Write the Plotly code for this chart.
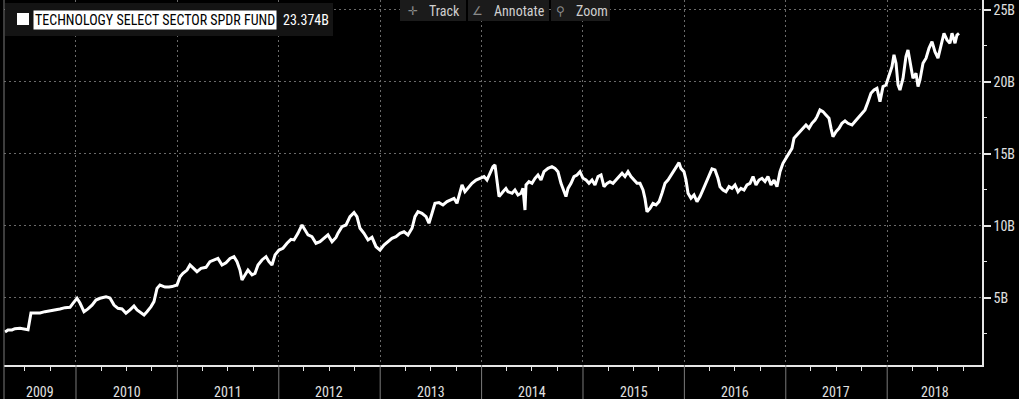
import plotly.graph_objects as go

# ---- data ----
t_years = [
    2009.300, 2009.329, 2009.369, 2009.398, 2009.448, 2009.497, 2009.527, 2009.556, 2009.596, 2009.645,
    2009.694, 2009.744, 2009.793, 2009.842, 2009.892, 2009.941, 2009.970, 2010.010, 2010.039, 2010.079,
    2010.118, 2010.158, 2010.197, 2010.237, 2010.296, 2010.335, 2010.375, 2010.414, 2010.454, 2010.493,
    2010.533, 2010.572, 2010.602, 2010.641, 2010.671, 2010.700, 2010.740, 2010.769, 2010.799, 2010.828,
    2010.878, 2010.917, 2010.947, 2010.996, 2011.026, 2011.055, 2011.095, 2011.124, 2011.154, 2011.193,
    2011.233, 2011.282, 2011.321, 2011.371, 2011.400, 2011.440, 2011.479, 2011.519, 2011.558, 2011.588,
    2011.617, 2011.637, 2011.667, 2011.696, 2011.736, 2011.765, 2011.795, 2011.834, 2011.874, 2011.903,
    2011.933, 2011.963, 2012.002, 2012.041, 2012.081, 2012.120, 2012.150, 2012.189, 2012.229, 2012.258,
    2012.288, 2012.327, 2012.367, 2012.406, 2012.446, 2012.485, 2012.525, 2012.564, 2012.584, 2012.623,
    2012.663, 2012.702, 2012.742, 2012.771, 2012.801, 2012.840, 2012.880, 2012.919, 2012.959, 2012.998,
    2013.037, 2013.077, 2013.116, 2013.156, 2013.195, 2013.235, 2013.274, 2013.314, 2013.343, 2013.373,
    2013.412, 2013.452, 2013.481, 2013.511, 2013.540, 2013.580, 2013.619, 2013.659, 2013.698, 2013.728,
    2013.757, 2013.787, 2013.807, 2013.836, 2013.866, 2013.905, 2013.945, 2013.984, 2014.024, 2014.053,
    2014.083, 2014.112, 2014.132, 2014.152, 2014.172, 2014.211, 2014.240, 2014.260, 2014.300, 2014.329,
    2014.359, 2014.389, 2014.408, 2014.428, 2014.438, 2014.467, 2014.497, 2014.527, 2014.556, 2014.586,
    2014.615, 2014.655, 2014.694, 2014.724, 2014.753, 2014.783, 2014.813, 2014.832, 2014.852, 2014.882,
    2014.911, 2014.941, 2014.970, 2015.000, 2015.030, 2015.059, 2015.089, 2015.118, 2015.148, 2015.178,
    2015.207, 2015.237, 2015.266, 2015.296, 2015.325, 2015.355, 2015.385, 2015.414, 2015.444, 2015.473,
    2015.503, 2015.533, 2015.562, 2015.592, 2015.611, 2015.631, 2015.661, 2015.690, 2015.720, 2015.750,
    2015.779, 2015.809, 2015.838, 2015.868, 2015.897, 2015.927, 2015.947, 2015.966, 2015.996, 2016.016,
    2016.036, 2016.065, 2016.095, 2016.124, 2016.154, 2016.183, 2016.213, 2016.243, 2016.272, 2016.302,
    2016.331, 2016.351, 2016.381, 2016.410, 2016.440, 2016.469, 2016.499, 2016.529, 2016.558, 2016.588,
    2016.617, 2016.647, 2016.677, 2016.706, 2016.736, 2016.765, 2016.795, 2016.824, 2016.854, 2016.884,
    2016.913, 2016.943, 2016.972, 2017.002, 2017.032, 2017.061, 2017.081, 2017.110, 2017.140, 2017.170,
    2017.199, 2017.229, 2017.258, 2017.288, 2017.308, 2017.337, 2017.367, 2017.396, 2017.426, 2017.446,
    2017.465, 2017.495, 2017.525, 2017.554, 2017.584, 2017.613, 2017.653, 2017.682, 2017.712, 2017.742,
    2017.781, 2017.811, 2017.840, 2017.870, 2017.899, 2017.929, 2017.959, 2017.988, 2018.018, 2018.047,
    2018.067, 2018.087, 2018.107, 2018.126, 2018.156, 2018.185, 2018.205, 2018.225, 2018.254, 2018.284,
    2018.304, 2018.323, 2018.353, 2018.383, 2018.412, 2018.442, 2018.471, 2018.501, 2018.531, 2018.560,
    2018.590, 2018.619, 2018.639, 2018.669, 2018.688, 2018.708,
]
aum_b = [
    2.64, 2.78, 2.78, 2.87, 2.90, 2.85, 2.80, 3.96, 3.98, 3.96,
    4.05, 4.10, 4.17, 4.24, 4.33, 4.35, 4.63, 4.98, 4.65, 4.05,
    4.24, 4.50, 4.86, 4.98, 5.09, 5.00, 4.51, 4.28, 4.24, 3.94,
    4.17, 4.44, 4.17, 3.94, 3.82, 4.05, 4.40, 4.75, 5.67, 5.90,
    5.76, 5.76, 5.79, 5.90, 6.48, 6.71, 6.94, 7.29, 7.06, 6.83,
    7.06, 7.13, 7.52, 7.64, 7.75, 7.29, 7.45, 7.75, 7.87, 7.52,
    6.94, 6.25, 6.60, 6.94, 6.60, 6.71, 7.29, 7.64, 7.87, 7.52,
    7.29, 7.99, 8.33, 8.45, 8.80, 9.07, 9.03, 9.49, 10.07, 9.72,
    9.38, 9.26, 8.80, 8.91, 9.14, 9.38, 8.91, 9.20, 9.50, 9.95,
    10.07, 10.65, 10.93, 10.65, 9.84, 9.49, 9.03, 9.21, 8.56, 8.33,
    8.68, 8.91, 9.14, 9.26, 9.49, 9.60, 9.38, 9.84, 10.65, 10.99,
    10.88, 10.65, 10.19, 10.88, 11.57, 11.62, 11.46, 11.69, 11.81, 11.92,
    11.57, 12.27, 12.85, 12.38, 12.61, 12.96, 13.19, 13.31, 13.43, 13.19,
    13.66, 14.12, 14.24, 12.96, 12.04, 12.38, 12.60, 12.38, 12.27, 12.50,
    12.15, 12.27, 12.61, 11.11, 12.85, 13.08, 12.96, 13.31, 13.54, 13.19,
    13.77, 14.00, 14.12, 14.00, 13.77, 12.96, 12.38, 12.04, 12.61, 12.96,
    13.43, 13.54, 13.77, 13.31, 13.19, 12.96, 13.19, 12.85, 13.43, 13.54,
    12.73, 12.96, 13.08, 12.96, 13.19, 13.43, 13.66, 13.43, 13.77, 13.43,
    13.19, 12.96, 12.96, 12.50, 11.92, 10.99, 11.23, 11.57, 11.46, 11.69,
    12.27, 12.96, 13.19, 13.54, 13.89, 14.24, 14.40, 14.00, 13.77, 13.19,
    12.27, 11.92, 12.15, 11.69, 12.04, 12.50, 12.96, 13.54, 13.96, 13.89,
    13.31, 12.73, 12.50, 12.38, 12.73, 12.61, 12.85, 12.38, 12.61, 12.50,
    12.85, 12.96, 13.43, 12.85, 13.19, 13.31, 13.08, 13.43, 12.85, 13.19,
    12.73, 13.77, 14.35, 14.70, 15.05, 15.39, 16.09, 16.32, 16.55, 16.78,
    17.01, 16.78, 17.13, 17.36, 17.59, 18.06, 17.94, 17.71, 17.48, 16.78,
    16.20, 16.55, 16.78, 17.13, 17.30, 17.13, 17.01, 17.25, 17.48, 17.71,
    18.06, 18.63, 19.21, 19.44, 19.56, 18.63, 19.68, 19.79, 20.49, 21.06,
    21.88, 21.30, 19.79, 19.44, 20.25, 21.76, 22.22, 21.30, 20.25, 20.60,
    19.68, 20.14, 21.30, 21.65, 22.33, 22.80, 22.10, 21.65, 22.57, 23.38,
    22.92, 22.69, 23.38, 22.69, 23.26, 23.374,
]
series_name = "TECHNOLOGY SELECT SECTOR SPDR FUND"
years = list(range(2009, 2019))
y_tick_vals = [5, 10, 15, 20, 25]
y_tick_text = ["5B", "10B", "15B", "20B", "25B"]
y_minor_vals = [2.5, 7.5, 12.5, 17.5, 22.5]
toolbar_items = [("\u271b", "Track"), ("\u2220", "Annotate"), ("\u26b2", "Zoom")]

# ---- geometry / style ----
W, H = 1019, 399
ML, MR, MT, MB = 4, 37, 0, 34
PW, PH = W - ML - MR, H - MT - MB
x_range = [2009.290, 2018.935]
y_range = [0.347, 25.69]
FONT = "Liberation Sans Narrow, Roboto Condensed, Roboto, Arial, sans-serif"
AX = "#e6e6e6"
GRID = "#6a6a6a"
SEP = "#7a7a7a"


def px(x):
    return (x - ML) / PW


def py(y):
    return (MT + PH - y) / PH


fig = go.Figure()
fig.add_trace(go.Scatter(
    x=t_years, y=aum_b, mode="lines", name=series_name,
    line=dict(color="white", width=3), hoverinfo="skip", showlegend=False,
))

quarters = [y + q for y in years for q in (0.247, 0.496, 0.748)]
quarters = [q for q in quarters if x_range[0] < q < x_range[1]]

fig.update_xaxes(
    range=x_range, tickmode="array", tickvals=years[1:], showticklabels=False, ticks="",
    showgrid=True, gridcolor=GRID, griddash="2px,3px", gridwidth=1,
    showline=True, linecolor=AX, linewidth=1.5, zeroline=False, fixedrange=True,
    minor=dict(tickmode="array", tickvals=quarters, ticks="outside", ticklen=4,
               tickcolor=AX, tickwidth=1, showgrid=False),
)
fig.update_yaxes(
    range=y_range, side="right", tickmode="array", tickvals=y_tick_vals, ticktext=y_tick_text,
    ticks="outside", ticklen=7, tickwidth=2, tickcolor=AX,
    tickfont=dict(family=FONT, size=14, color="#e0e0e0"),
    showgrid=True, gridcolor=GRID, griddash="2px,3px", gridwidth=1,
    showline=True, linecolor=AX, linewidth=1.5, zeroline=False, fixedrange=True,
    minor=dict(tickmode="array", tickvals=y_minor_vals, ticks="outside", ticklen=3,
               tickcolor=AX, tickwidth=1, showgrid=False),
)

shapes = []
annotations = []

# left border and year separators below the axis
shapes.append(dict(type="line", xref="paper", yref="paper", x0=0, x1=0, y0=-MB / PH, y1=1,
                   line=dict(color=SEP, width=1)))
for yr in years[1:]:
    shapes.append(dict(type="line", xref="x", yref="paper", x0=yr, x1=yr, y0=-MB / PH, y1=0,
                       line=dict(color=SEP, width=1)))
# year labels centred in their visible band
for yr in years:
    a = max(yr, x_range[0])
    b = min(yr + 1, x_range[1])
    annotations.append(dict(x=(a + b) / 2, y=-27 / PH, xref="x", yref="paper", text=str(yr),
                            showarrow=False, xanchor="center", yanchor="middle",
                            font=dict(family=FONT, size=14, color="#e0e0e0")))

# legend box
shapes.append(dict(type="rect", xref="paper", yref="paper", x0=px(5), x1=px(333), y0=py(36), y1=py(3),
                   fillcolor="#141414", line=dict(width=0), layer="above"))
shapes.append(dict(type="rect", xref="paper", yref="paper", x0=px(17), x1=px(29), y0=py(25), y1=py(13),
                   fillcolor="white", line=dict(width=0), layer="above"))
annotations.append(dict(x=px(33), y=py(20), xref="paper", yref="paper", text=series_name,
                        showarrow=False, xanchor="left", yanchor="middle", bgcolor="white",
                        borderpad=1, font=dict(family=FONT, size=14, color="black")))
annotations.append(dict(x=px(281), y=py(20), xref="paper", yref="paper", text=f"{aum_b[-1]:.3f}B",
                        showarrow=False, xanchor="left", yanchor="middle",
                        font=dict(family=FONT, size=14, color="white")))

# toolbar buttons
btn_edges = [(400, 466), (468, 549), (551, 610)]
icon_x = [413, 477, 560]
text_x = [427, 492, 574]
for (ic, label), (b0, b1), ix, tx in zip(toolbar_items, btn_edges, icon_x, text_x):
    shapes.append(dict(type="rect", xref="paper", yref="paper", x0=px(b0), x1=px(b1), y0=py(21), y1=py(0),
                       fillcolor="#1b1b1b", line=dict(width=0), layer="above"))
    annotations.append(dict(x=px(ix), y=py(10.5), xref="paper", yref="paper", text=ic, showarrow=False,
                            xanchor="center", yanchor="middle",
                            font=dict(family="DejaVu Sans", size=12, color="#8a8a8a")))
    annotations.append(dict(x=px(tx), y=py(10.5), xref="paper", yref="paper", text=label, showarrow=False,
                            xanchor="left", yanchor="middle",
                            font=dict(family=FONT, size=14, color="#cfcfcf")))

fig.update_layout(
    width=W, height=H, margin=dict(l=ML, r=MR, t=MT, b=MB, pad=0),
    paper_bgcolor="black", plot_bgcolor="black",
    shapes=shapes, annotations=annotations, showlegend=False,
    font=dict(family=FONT, color="#e0e0e0"),
)

fig.write_html("out.html", config={"displayModeBar": False})
